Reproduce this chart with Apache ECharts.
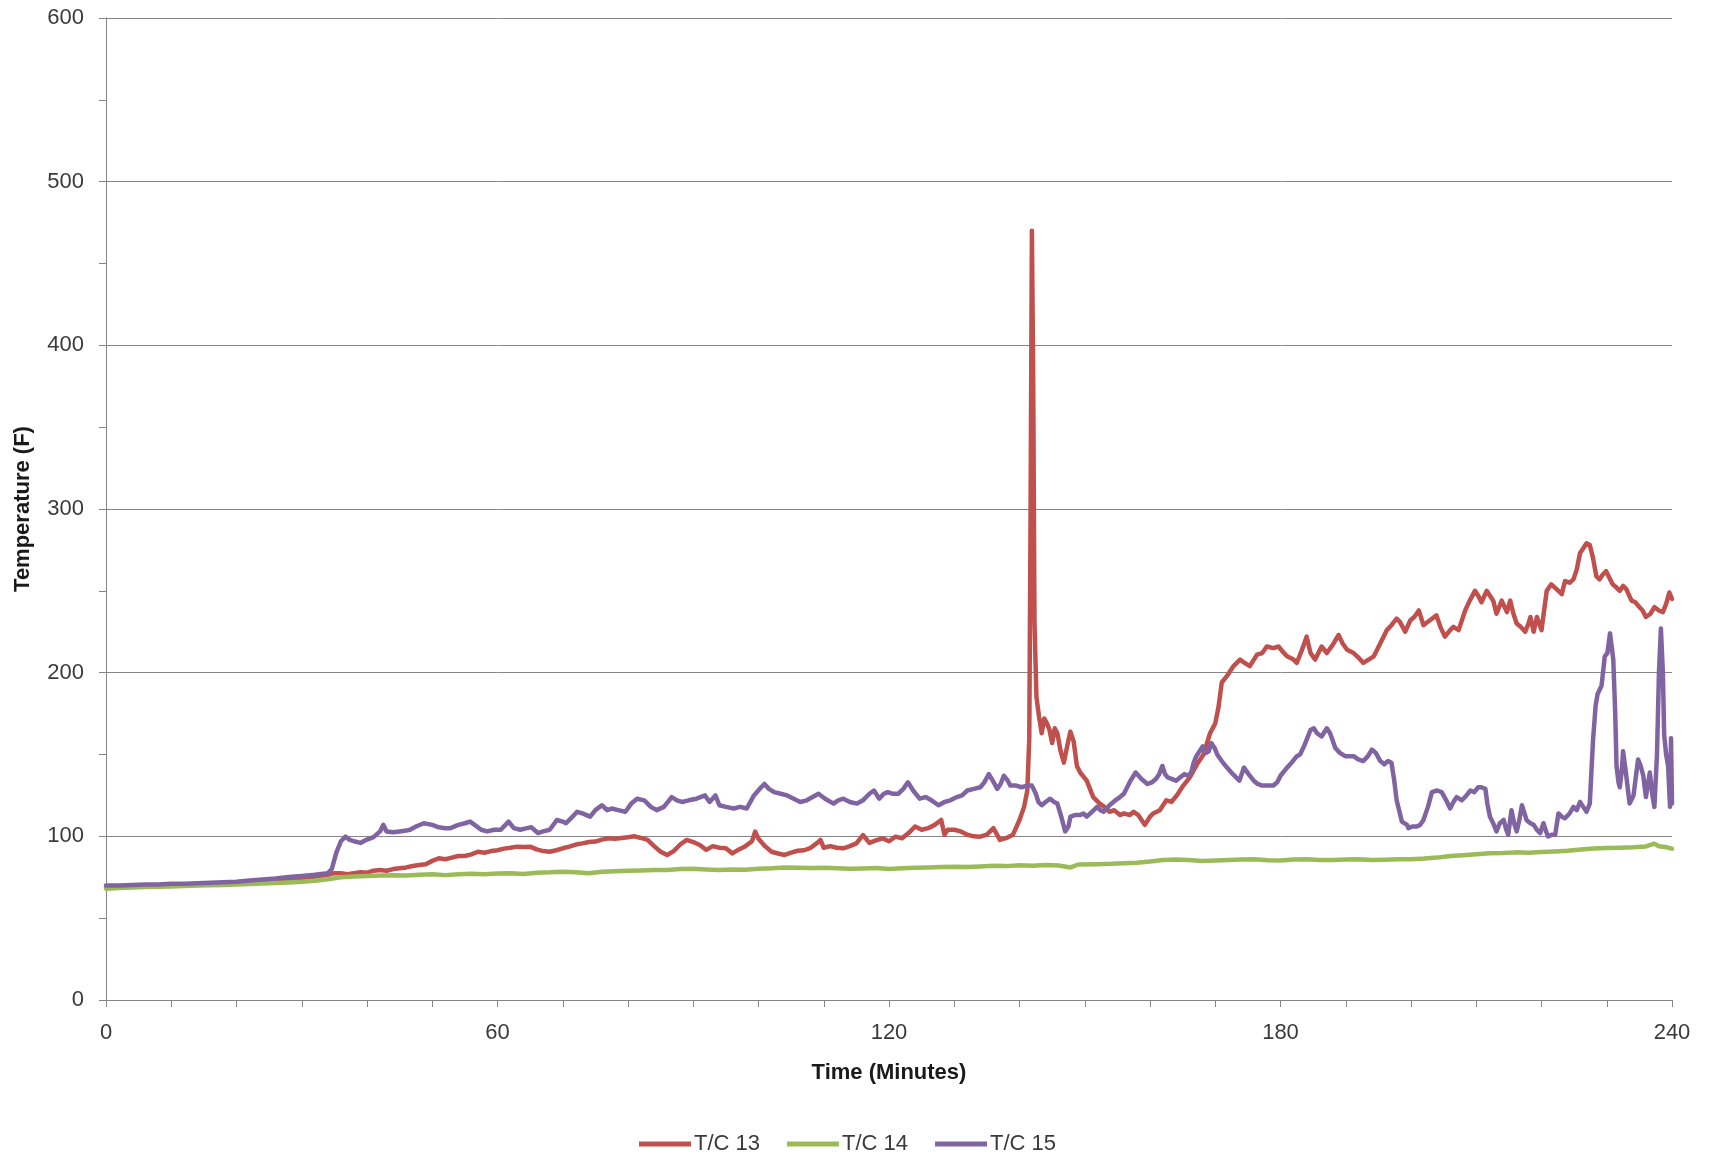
<!DOCTYPE html>
<html>
<head>
<meta charset="utf-8">
<script src="https://cdn.jsdelivr.net/npm/echarts@6/dist/echarts.min.js"></script>
<style>
html,body{margin:0;padding:0;background:#fff;}
#chart{width:1710px;height:1158px;}
</style>
</head>
<body>
<div id="chart"></div>
<script>
// Series names
const seriesNames = ['T/C 13', 'T/C 14', 'T/C 15'];
// [minute, °F]
const tc13 = [[0,69],[2,69],[4,69.2],[6,69.5],[8,69.6],[10,70],[12,70],[14,70.4],[16,70.6],[18,71],[20,71.3],[22,71.8],[24,72.3],[26,73],[28,73.8],[30,74.6],[32,75.5],[34,76.5],[35,77.5],[36,77.4],[37,76.8],[38,77.5],[39,78],[40,77.8],[41,79],[42,79.4],[43,79],[44,80],[45,80.5],[46,81],[47,81.9],[48,82.5],[49,83],[50,85],[51,86.6],[52,86],[53,87],[54,88],[55,88],[56,89],[57,90.6],[58,90],[59,91],[60,91.5],[61,92.5],[62,93],[63,93.7],[64,93.5],[65,93.7],[66,92],[67,91],[68,90.6],[69,91.5],[70,92.7],[71,93.7],[72,95],[73,95.7],[74,96.5],[75,96.8],[76,98],[77,98.8],[78,98.5],[79,99],[80,99.5],[81,100],[82,99],[83,97.8],[84,94],[85,90.6],[86,88.6],[87,91],[88,95],[89,97.8],[90,96.5],[91,94.7],[92,91.7],[93,94],[94,93],[95,92.7],[96,89.6],[97,92],[98,94],[99,97],[99.5,102.9],[100,98.5],[101,94],[102,90.6],[103,89.5],[104,88.6],[105,90],[106,91.2],[107,91.5],[108,93],[109,96],[109.5,97.8],[110,93],[111,94],[112,93],[113,92.7],[114,94],[115,95.7],[116,100.8],[117,96],[118,97.5],[119,98.8],[120,97],[121,99.8],[122,98.8],[123,102],[124,106],[125,104],[126,105],[127,107],[128,110],[128.5,101],[129,104],[130,104],[131,103],[132,101],[133,100],[134,99.8],[135,101],[136,105],[137,97.8],[138,99],[139,101],[140,110],[140.7,118],[141.2,128],[141.5,160],[141.7,300],[141.9,470],[142.1,380],[142.3,230],[142.6,185],[143,173],[143.4,163],[143.8,172],[144.2,169],[144.6,165],[145,157],[145.4,166],[145.8,163],[146.3,152],[146.8,145],[147.3,155],[147.8,164],[148.3,158],[148.8,143],[149.3,139],[150.3,134],[151.3,124],[152.3,120],[153,118],[153.8,115],[154.5,116],[155.4,113],[156,114],[156.9,113],[157.5,115],[158.2,113],[158.7,110],[159.2,107],[160,112],[160.5,114],[161.5,116],[162.5,122],[163.3,121],[164.1,125],[165.1,131],[166.1,136],[167.2,144],[168.2,150],[169.2,163],[170,169],[170.5,179],[171,194],[171.8,198],[172.8,204],[173.8,208],[174.5,206],[175.3,204],[176.4,211],[177.2,212],[177.9,216],[178.9,215],[179.7,216],[180.3,213],[181,210],[182,208],[182.5,206],[183.3,214],[184,222],[184.6,212],[185.3,208],[186.3,216],[187.1,212],[188,217],[188.9,223],[189.5,218],[190.2,214],[191.2,212],[192,209],[192.7,206],[193.5,208],[194.3,210],[195.3,218],[196.3,226],[197,229],[197.8,233],[198.3,231],[199.1,225],[199.9,232],[200.5,234],[201.2,238],[201.9,229],[202.9,232],[203.9,235],[204.5,228],[205.2,222],[206,226],[206.5,228],[207.3,226],[208.3,238],[209,244],[209.8,250],[210.3,247],[210.8,243],[211.6,250],[212.1,247],[212.6,244],[213.1,236],[213.9,244],[214.7,237],[215.2,244],[215.7,236],[216.2,230],[216.8,228],[217.5,225],[218,230],[218.3,234],[218.8,225],[219.3,234],[220,226],[220.8,250],[221.5,254],[222.3,251],[223.1,248],[223.6,256],[224.3,255],[224.9,257],[225.4,263],[225.9,273],[226.9,279],[227.4,278],[227.9,270],[228.4,259],[228.9,257],[229.4,260],[229.9,262],[230.4,258],[230.9,254],[231.5,252],[232,250],[232.5,253],[233,251],[233.8,244],[234.4,243],[235,240],[235.5,238],[236,234],[236.7,236],[237.3,240],[238,238],[238.6,237],[239.1,242],[239.6,249],[240,245]];
const tc14 = [[0,68],[2,68.5],[4,68.7],[6,69],[8,69.2],[10,69.4],[12,69.6],[14,69.9],[16,70.1],[18,70.3],[20,70.6],[22,70.9],[24,71.2],[26,71.5],[28,71.8],[30,72.2],[32,72.8],[34,73.8],[36,75],[38,75.5],[40,75.8],[42,76],[44,76.2],[46,76],[48,76.5],[50,76.8],[52,76.3],[54,76.8],[56,77.2],[58,76.8],[60,77.3],[62,77.4],[64,77],[66,77.8],[68,78],[70,78.4],[72,78],[74,77.5],[76,78.3],[78,78.6],[80,79],[82,79.2],[84,79.5],[86,79.4],[88,80],[90,80.2],[92,79.8],[94,79.5],[96,79.8],[98,79.6],[100,80.2],[102,80.5],[104,81],[106,80.8],[108,80.6],[110,80.8],[112,80.5],[114,80.2],[116,80.4],[118,80.6],[120,80],[122,80.5],[124,80.8],[126,81],[128,81.2],[130,81.4],[132,81.2],[134,81.6],[136,82],[138,81.8],[140,82.3],[142,82],[144,82.5],[146,82.2],[147.8,81],[149,82.8],[152,83],[154,83.2],[156,83.6],[158,83.8],[160,84.6],[162,85.5],[164,85.8],[166,85.5],[168,85],[170,85.3],[172,85.6],[174,85.8],[176,86],[178,85.4],[180,85.3],[182,85.8],[184,86],[186,85.5],[188,85.6],[190,85.8],[192,86],[194,85.5],[196,85.7],[198,86],[200,86],[202,86.4],[204,87],[206,88],[208,88.5],[210,89],[212,89.6],[214,89.8],[216,90.2],[218,90],[220,90.4],[222,90.8],[224,91.2],[226,92],[228,92.5],[230,92.8],[232,93],[234,93.3],[236,93.8],[237.3,95.5],[238,94],[239,93.5],[240,92.5]];
const tc15 = [[0,70],[2,70],[4,70.3],[6,70.5],[8,70.6],[10,71],[12,71],[14,71.3],[16,71.6],[18,72],[20,72.3],[22,73],[24,73.6],[26,74.3],[28,75.2],[30,75.8],[32,76.5],[33,77],[34,77.5],[34.6,80],[35.3,90],[36,97],[36.7,99.8],[37.3,98],[38,97],[39,96],[40,98],[41,99.5],[42,103],[42.5,107],[43,103],[44,102.5],[45,103],[46,103.5],[46.6,104],[47.5,106],[48.7,108],[50,107],[51,105.5],[52,105],[52.8,105],[54,107],[55,108],[55.8,109],[56.5,107],[57.5,104],[58.4,103],[59.5,104],[60.5,104],[61.7,109],[62.5,105],[63.5,104],[64.5,105],[65.2,105.5],[66.2,102],[67,103],[68,104],[69.1,110],[70,109],[70.5,108],[71.5,112],[72.2,115],[73,114],[74.2,112],[75,116],[76,119],[76.8,116],[77.5,117],[78.5,116],[79.6,115],[80.5,120],[81.4,123],[82.5,122],[83.5,118],[84.4,116],[85.5,118],[86.7,124],[87.5,122],[88.3,121],[89.3,122],[90.5,123],[91.8,125],[92.5,121],[93.4,125],[94,119],[95,118],[96.2,117],[97.2,118],[98.2,117],[99.3,125],[100.2,129],[100.9,132],[101.6,129],[102.4,127],[103.4,126],[104.4,125],[105.4,123],[106.4,121],[107.4,122],[108.3,124],[109.2,126],[110.2,123],[111.5,120],[112.2,122],[113,123],[114,121],[115.1,120],[116,122],[117,126],[117.7,128],[118.5,123],[119.2,126],[119.8,127],[120.6,126],[121.4,126],[122.2,129],[122.9,133],[123.7,128],[124.7,123],[125.6,124],[126.5,122],[127.6,119],[128.5,121],[129.4,122],[130.4,124],[131.2,125],[132,128],[133,129],[134,130],[134.6,133],[135.3,138],[135.9,134],[136.6,129],[137.1,132],[137.6,137],[138.2,134],[138.6,131],[139.5,131],[140.3,130],[141.2,131],[141.9,131],[142.5,126],[142.9,121],[143.4,119],[144,121],[144.7,123],[145.3,121],[145.8,120],[146.4,112],[147,103],[147.5,106],[147.8,112],[148.5,113],[149.3,113],[149.8,114],[150.3,112],[151.1,115],[151.9,118],[152.4,116],[152.9,115],[153.8,119],[154.7,122],[155.4,124],[156,126],[157,134],[157.8,139],[158.7,135],[159.6,132],[160.3,133],[160.9,135],[161.4,138],[161.9,143],[162.3,138],[162.7,136],[163.4,135],[164,134],[164.6,136],[165.3,138],[165.8,137],[166.3,139],[166.7,145],[167.1,149],[167.6,152],[168.1,155],[168.6,151],[169,152],[169.4,157],[169.9,154],[170.3,150],[171,146],[171.8,142],[172.7,138],[173.7,134],[174.4,142],[175.1,138],[175.9,134],[176.5,132],[177.2,131],[178,131],[178.9,131],[179.5,133],[180,137],[181,142],[181.7,145],[182.5,149],[183,150],[183.6,155],[184.1,160],[184.6,165],[185.1,166],[185.6,163],[186.3,161],[187.1,166],[187.6,163],[188.4,154],[189.1,151],[189.9,149],[190.5,149],[191.2,149],[191.9,147],[192.7,146],[193.4,149],[194,153],[194.6,151],[195.3,146],[195.9,144],[196.5,146],[197,145],[197.4,135],[197.8,122],[198.3,114],[198.6,109],[199.4,107],[199.6,105],[200.2,106],[200.9,106],[201.4,107],[201.9,110],[202.6,118],[203.2,127],[204,128],[204.7,127],[205.4,122],[206,117],[206.5,121],[207,124],[207.8,122],[208.5,125],[209.1,128],[209.7,127],[210.3,130],[210.8,130],[211.4,129],[211.7,120],[212.1,112],[212.6,108],[213.1,103],[213.6,108],[214.2,110],[214.6,104],[214.9,101],[215.4,116],[215.8,108],[216.2,103],[216.6,110],[217,119],[217.4,114],[217.7,110],[218.3,108],[218.8,107],[219.3,104],[219.8,102],[220.3,108],[220.7,103],[221,100],[221.6,101],[222.1,101],[222.6,114],[223.1,112],[223.6,111],[224.3,114],[224.9,118],[225.4,116],[225.9,121],[226.4,118],[226.9,115],[227.4,120],[227.9,159],[228.3,180],[228.6,187],[228.9,186],[229.2,192],[229.7,210],[230.1,212],[230.5,224],[231,208],[231.3,175],[231.5,143],[231.8,133],[232,130],[232.3,140],[232.5,152],[232.9,140],[233.5,120],[234.1,125],[234.8,147],[235.2,143],[235.6,137],[236,124],[236.6,139],[237,125],[237.3,118],[237.7,150],[238,200],[238.3,227],[238.6,200],[238.8,162],[239.1,150],[239.4,143],[239.7,118],[239.85,160],[240,120]];

const chart = echarts.init(document.getElementById('chart'), null, {renderer: 'canvas'});
const FONT = 'Liberation Sans';
const axisGray = '#868686';
const colors = ['#C0504D', '#9BBB59', '#8064A2'];
const allData = [tc13, tc14, tc15];

chart.setOption({
  animation: false,
  backgroundColor: '#fff',
  color: colors,
  grid: {left: 106, top: 18, width: 1566, height: 982, containLabel: false},
  legend: {
    data: seriesNames,
    left: 634, top: 1128,
    icon: 'rect', itemWidth: 52, itemHeight: 5, itemGap: 27,
    textStyle: {fontFamily: FONT, fontSize: 22, color: '#3a3a3a', padding: [0,0,0,-2]}
  },
  xAxis: {
    type: 'value', min: 0, max: 240, interval: 60,
    name: 'Time (Minutes)', nameLocation: 'middle', nameGap: 62,
    nameTextStyle: {fontFamily: FONT, fontSize: 22, fontWeight: 'bold', color: '#1a1a1a'},
    axisLine: {show: true, onZero: false, lineStyle: {color: axisGray, width: 1}},
    axisTick: {show: true, length: 7, lineStyle: {color: axisGray}},
    minorTick: {show: true, splitNumber: 6, length: 7, lineStyle: {color: axisGray}},
    splitLine: {show: false},
    axisLabel: {fontFamily: FONT, fontSize: 22, color: '#3a3a3a', margin: 22}
  },
  yAxis: {
    type: 'value', min: 0, max: 600, interval: 100,
    name: 'Temperature (F)', nameLocation: 'middle', nameGap: 72, nameRotate: 90,
    nameTextStyle: {fontFamily: FONT, fontSize: 22, fontWeight: 'bold', color: '#1a1a1a'},
    axisLine: {show: true, lineStyle: {color: axisGray, width: 1}},
    axisTick: {show: true, length: 7, lineStyle: {color: axisGray}},
    minorTick: {show: true, splitNumber: 2, length: 7, lineStyle: {color: axisGray}},
    splitLine: {show: true, lineStyle: {color: axisGray, width: 1}},
    axisLabel: {fontFamily: FONT, fontSize: 22, color: '#3a3a3a', margin: 22}
  },
  series: seriesNames.map((n, i) => ({
    name: n, type: 'line', data: allData[i],
    showSymbol: false, symbol: 'none',
    lineStyle: {width: 4.5, color: colors[i], join: 'round', cap: 'round'},
    itemStyle: {color: colors[i]}
  }))
});
</script>
</body>
</html>
